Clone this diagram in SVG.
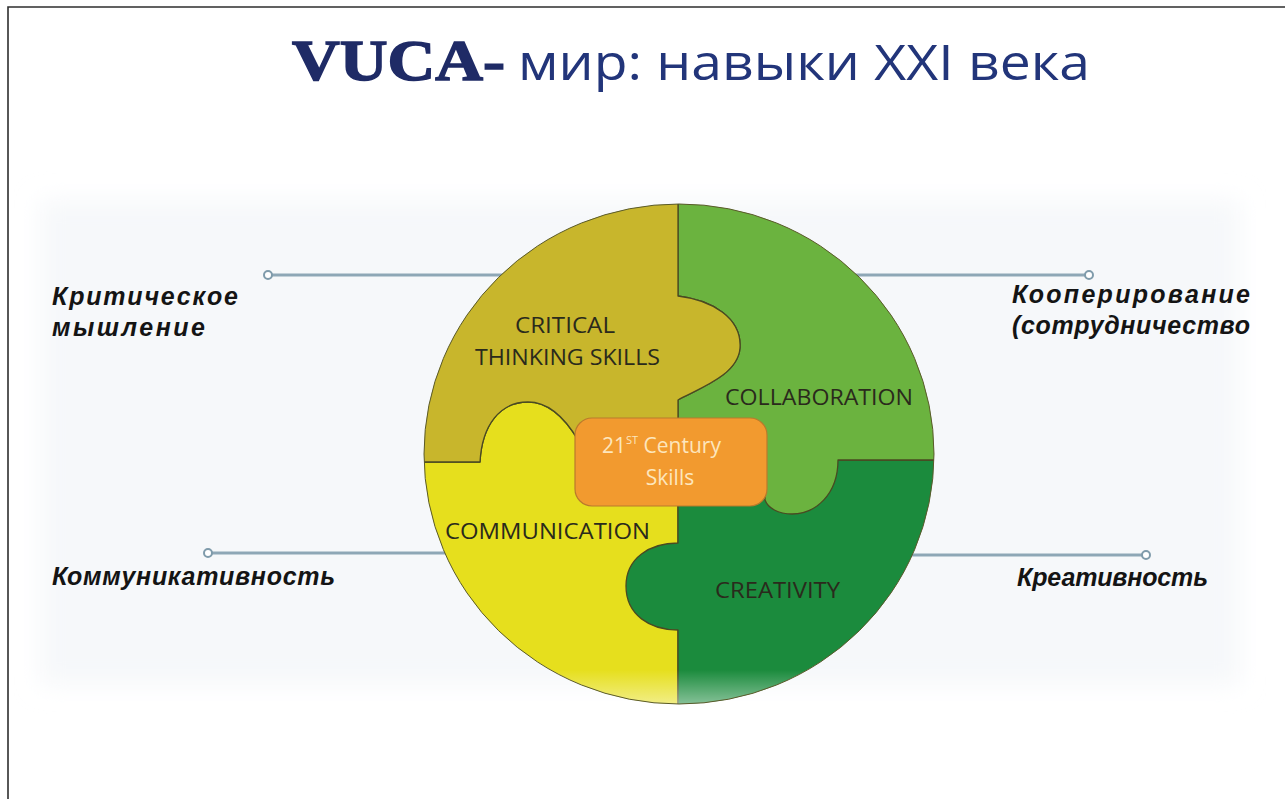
<svg xmlns="http://www.w3.org/2000/svg" width="1285" height="799" viewBox="0 0 1285 799">
<style>
.lbl{font-family:"Liberation Sans",Arial,sans-serif;font-weight:bold;font-style:italic;font-size:25px;fill:#141414}
.inner{font-family:"Open Sans","Liberation Sans",sans-serif;font-size:21px;fill:#2a2a1c}
.piece{stroke:#4a4a22;stroke-width:1.3;stroke-linejoin:round}
.conn{stroke:#8ea7b6;stroke-width:3;fill:none}
.dot{fill:#ffffff;stroke:#7f9bab;stroke-width:2}
</style>
<defs>
<clipPath id="circ"><ellipse cx="679" cy="454" rx="255" ry="250"/></clipPath>
<linearGradient id="fade" x1="0" y1="0" x2="0" y2="1">
<stop offset="0" stop-color="#ffffff" stop-opacity="0"/>
<stop offset="1" stop-color="#ffffff" stop-opacity="0.55"/>
</linearGradient>
<filter id="soft" x="-10%" y="-10%" width="120%" height="120%"><feGaussianBlur stdDeviation="12"/></filter>
</defs>
<rect x="0" y="0" width="1285" height="799" fill="#ffffff"/>
<rect x="40" y="200" width="1200" height="485" fill="#f6f8fa" filter="url(#soft)"/>
<path d="M8 799 V7 H1285" fill="none" stroke="#2e2e2e" stroke-width="1.6"/>
<g id="title">
<text x="292" y="80" font-family="'Liberation Serif','Times New Roman',serif" font-weight="bold" font-size="58" fill="#1f2b66" stroke="#1f2b66" stroke-width="1.5" textLength="213" lengthAdjust="spacingAndGlyphs">VUCA-</text>
<text x="518" y="80" font-family="'Open Sans','Liberation Sans',sans-serif" font-size="50" fill="#22357a" textLength="572" lengthAdjust="spacingAndGlyphs">мир: навыки XXI века</text>
</g>
<g id="connectors">
<line class="conn" x1="268" y1="275" x2="520" y2="275"/>
<circle class="dot" cx="268" cy="275" r="4"/>
<line class="conn" x1="840" y1="275" x2="1089" y2="275"/>
<circle class="dot" cx="1089" cy="275" r="4"/>
<line class="conn" x1="208" y1="553" x2="450" y2="553"/>
<circle class="dot" cx="208" cy="553" r="4"/>
<line class="conn" x1="905" y1="555" x2="1146" y2="555"/>
<circle class="dot" cx="1146" cy="555" r="4"/>
</g>
<g id="circle" clip-path="url(#circ)">
<g id="communication">
<path class="piece" fill="#e6df1d" d="M400 462 H480 C482 425 500 402 528 402 C548 402 565 418 578 440 H678 V720 H400 Z"/>
</g>
<g id="creativity">
<path class="piece" fill="#1b8b3d" d="M678 460 H950 V720 H678 V630 C650 630 626 615 626 586 C626 558 650 543 678 543 Z"/>
</g>
<g id="collaboration">
<path class="piece" fill="#6bb33f" d="M678 180 H950 V460 H838 C838 495 815 514 792 514 C778 514 768 508 765 500 L765 440 H678 V400 C700 388 738 375 740 348 C742 318 712 300 678 296 Z"/>
</g>
<g id="critical">
<path class="piece" fill="#c8b62c" d="M400 180 H678 V296 C712 300 742 318 740 348 C738 375 700 388 678 400 V440 H578 C565 418 548 402 528 402 C500 402 482 425 480 462 H400 Z"/>
</g>
<rect x="400" y="670" width="560" height="40" fill="url(#fade)"/>
</g>
<ellipse cx="679" cy="454" rx="255" ry="250" fill="none" stroke="#5a5a2a" stroke-width="1"/>
<g id="center">
<rect x="575" y="418" width="192" height="88" rx="17" fill="#f29a2f" stroke="#b97a2c" stroke-width="1.2"/>
<text x="602" y="453" font-family="'Open Sans','Liberation Sans',sans-serif" font-size="21" fill="#fde6bd">21<tspan font-size="11" dy="-9">ST</tspan><tspan dy="9"> Century</tspan></text>
<text x="670" y="485" text-anchor="middle" font-family="'Open Sans','Liberation Sans',sans-serif" font-size="21" fill="#fde6bd">Skills</text>
</g>
<g id="labels-inner">
<text class="inner" x="515" y="333" textLength="100" lengthAdjust="spacingAndGlyphs">CRITICAL</text>
<text class="inner" x="475" y="365" textLength="185" lengthAdjust="spacingAndGlyphs">THINKING SKILLS</text>
<text class="inner" x="725" y="405" textLength="188" lengthAdjust="spacingAndGlyphs">COLLABORATION</text>
<text class="inner" x="445" y="539" textLength="205" lengthAdjust="spacingAndGlyphs">COMMUNICATION</text>
<text class="inner" x="715" y="598" textLength="125" lengthAdjust="spacingAndGlyphs">CREATIVITY</text>
</g>
<g id="node-critical-ru">
<text class="lbl" x="52" y="305" textLength="186" lengthAdjust="spacing">Критическое</text>
<text class="lbl" x="52" y="336" textLength="153" lengthAdjust="spacing">мышление</text>
</g>
<g id="node-coop-ru">
<text class="lbl" x="1012" y="303" textLength="238" lengthAdjust="spacing">Кооперирование</text>
<text class="lbl" x="1012" y="334" textLength="238" lengthAdjust="spacing">(сотрудничество</text>
</g>
<g id="node-comm-ru">
<text class="lbl" x="52" y="585" textLength="283" lengthAdjust="spacing">Коммуникативность</text>
</g>
<g id="node-creat-ru">
<text class="lbl" x="1017" y="586" textLength="191" lengthAdjust="spacing">Креативность</text>
</g>
</svg>
